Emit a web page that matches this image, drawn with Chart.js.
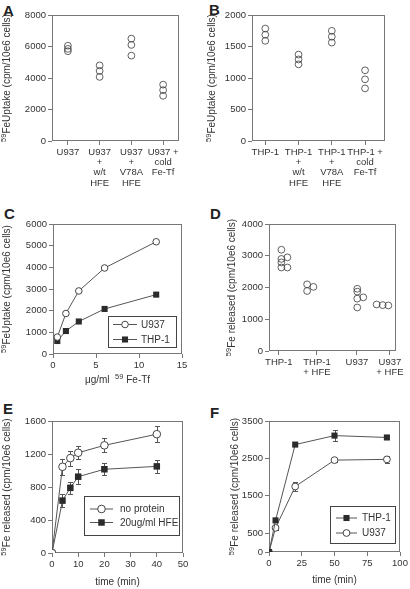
<!DOCTYPE html>
<html lang="en">
<head>
<meta charset="UTF-8">
<title>59Fe uptake and release</title>
<script src="https://cdn.jsdelivr.net/npm/chart.js@4"></script>
<style>
  body { margin: 0; background: #fff; font-family: Arial, "Liberation Sans", sans-serif; }
  #wrap { position: relative; width: 410px; height: 589px; overflow: hidden; }
  canvas { position: absolute; }
  .tag { position: absolute; font-weight: bold; font-size: 15px; line-height: 1; color: #222; }
</style>
</head>
<body>
<div id="wrap">
  <div class="tag" style="left:3px;top:3px">A</div>
  <div class="tag" style="left:209px;top:2px">B</div>
  <div class="tag" style="left:4px;top:206px">C</div>
  <div class="tag" style="left:210px;top:206px">D</div>
  <div class="tag" style="left:3px;top:401px">E</div>
  <div class="tag" style="left:210px;top:405px">F</div>

  <canvas id="chartA" width="199" height="196" style="left:1px;top:0px"></canvas>
  <canvas id="chartB" width="203" height="196" style="left:206px;top:0px"></canvas>
  <canvas id="chartC" width="199" height="186" style="left:1px;top:200px"></canvas>
  <canvas id="chartD" width="183" height="180" style="left:226px;top:200px"></canvas>
  <canvas id="chartE" width="199" height="184" style="left:1px;top:404px"></canvas>
  <canvas id="chartF" width="181" height="182" style="left:229px;top:404px"></canvas>
</div>

<script>
// ---- A: U937 uptake ----
const aCats = [['U937'], ['U937', '+', 'w/t', 'HFE'], ['U937', '+', 'V78A', 'HFE'], ['U937 +', 'cold', 'Fe-Tf']];
const aU937 = [6050, 5850, 5700];
const aU937Wt = [4800, 4450, 4070];
const aU937V78A = [6500, 6100, 5420];
const aU937Cold = [3580, 3230, 2870];
const aYTicks = [0, 2000, 4000, 6000, 8000];

// ---- B: THP-1 uptake ----
const bCats = [['THP-1'], ['THP-1', '+', 'w/t', 'HFE'], ['THP-1', '+', 'V78A', 'HFE'], ['THP-1 +', 'cold', 'Fe-Tf']];
const bThp1 = [1785, 1687, 1590];
const bThp1Wt = [1372, 1295, 1217];
const bThp1V78A = [1749, 1655, 1562];
const bThp1Cold = [1122, 979, 835];
const bYTicks = [0, 500, 1000, 1500, 2000];

// ---- C: dose response ----
const cDose = [0.5, 1.5, 3, 6, 12];
const cU937 = [780, 1870, 2910, 3970, 5180];
const cThp1 = [600, 1060, 1500, 2080, 2740];
const cXTicks = [0, 5, 10, 15];
const cYTicks = [0, 1000, 2000, 3000, 4000, 5000, 6000];

// ---- D: release, jittered points ----
const dCats = ['THP-1', ['THP-1', '+ HFE'], 'U937', ['U937', '+ HFE']];
const dCatPos = [0.31, 1.51, 2.77, 3.81];
const dThp1 = [3190, 2900, 2790, 2630, 2950, 2630];
const dThp1X = [0.39, 0.39, 0.39, 0.39, 0.58, 0.58];
const dThp1Hfe = [2100, 1890, 2020];
const dThp1HfeX = [1.20, 1.20, 1.40];
const dU937 = [1960, 1870, 1650, 1370, 1690];
const dU937X = [2.78, 2.78, 2.78, 2.78, 2.97];
const dU937Hfe = [1465, 1445, 1435];
const dU937HfeX = [3.39, 3.58, 3.76];
const dYTicks = [0, 1000, 2000, 3000, 4000];

// ---- E: release time course +/- HFE ----
const eTime = [0, 4, 7, 10, 20, 40];
const eNoProtein = [0, 1045, 1150, 1215, 1305, 1440];
const eNoProteinErr = [0, 95, 90, 80, 85, 95];
const eHfe = [0, 635, 790, 925, 1015, 1050];
const eHfeErr = [0, 75, 70, 90, 70, 78];
const eXTicks = [0, 10, 20, 30, 40, 50];
const eYTicks = [0, 400, 800, 1200, 1600];

// ---- F: release time course THP-1 vs U937 ----
const fTime = [0, 5, 20, 50, 90];
const fThp1 = [0, 845, 2870, 3110, 3060];
const fThp1Err = [0, 0, 40, 150, 40];
const fU937 = [0, 645, 1750, 2455, 2475];
const fU937Err = [0, 50, 130, 40, 100];
const fXTicks = [0, 25, 50, 75, 100];
const fYTicks = [0, 500, 1500, 2500, 3500];

// axis titles, "59" is drawn as a superscript
const uptakeTitle = [['59', true], ['FeUptake (cpm/10e6 cells)', false]];
const releaseTitle = [['59', true], ['Fe released (cpm/10e6 cells)', false]];
const doseTitle = [['\u03bcg/ml  ', false], ['59', true], [' Fe-Tf', false]];
const timeTitle = [['time (min)', false]];

Chart.defaults.font.family = 'Arial, "Liberation Sans", Helvetica, sans-serif';
Chart.defaults.font.size = 9.5;
Chart.defaults.color = '#333';

const frameColor = '#777';
const fontFamily = Chart.defaults.font.family;

function pts(xs, ys) {
  return ys.map((y, i) => ({ x: xs[i], y: y }));
}

function groupPoints(groups) {
  let out = [];
  groups.forEach((ys, i) => { out = out.concat(ys.map(y => ({ x: i, y: y }))); });
  return out;
}

function setTicks(list) {
  return function (scale) {
    scale.ticks = list.map(v => ({ value: v }));
  };
}

// box around the plot area
const framePlugin = {
  id: 'frame',
  beforeDatasetsDraw(chart) {
    const a = chart.chartArea, ctx = chart.ctx;
    ctx.save();
    ctx.strokeStyle = frameColor;
    ctx.lineWidth = 1;
    ctx.strokeRect(Math.round(a.left) + 0.5, Math.round(a.top) + 0.5,
      Math.round(a.right - a.left) - 1, Math.round(a.bottom - a.top) - 1);
    ctx.restore();
  }
};

// vertical error bars with caps
const errorBarPlugin = {
  id: 'errorBars',
  beforeDatasetsDraw(chart) {
    const ctx = chart.ctx, ys = chart.scales.y;
    chart.data.datasets.forEach((ds, i) => {
      if (!ds.errors) return;
      const meta = chart.getDatasetMeta(i);
      ctx.save();
      ctx.strokeStyle = '#555';
      ctx.lineWidth = 1;
      meta.data.forEach((pt, j) => {
        const e = ds.errors[j];
        if (!e) return;
        const v = ds.data[j].y;
        const top = Math.round(ys.getPixelForValue(v + e)) + 0.5;
        const bot = Math.round(ys.getPixelForValue(v - e)) + 0.5;
        const x = Math.round(pt.x) + 0.5;
        ctx.beginPath();
        ctx.moveTo(x, top); ctx.lineTo(x, bot);
        ctx.moveTo(x - 2.5, top); ctx.lineTo(x + 2.5, top);
        ctx.moveTo(x - 2.5, bot); ctx.lineTo(x + 2.5, bot);
        ctx.stroke();
      });
      ctx.restore();
    });
  }
};

// text made of normal and superscript pieces, centred on (cx, cy)
function drawRich(ctx, parts, cx, cy, rotate) {
  const fonts = parts.map(p => (p[1] ? '7.5px ' : '10px ') + fontFamily);
  const widths = parts.map((p, i) => { ctx.font = fonts[i]; return ctx.measureText(p[0]).width; });
  const total = widths.reduce((s, w) => s + w, 0);
  ctx.save();
  ctx.translate(cx, cy);
  if (rotate) ctx.rotate(-Math.PI / 2);
  ctx.textBaseline = 'middle';
  ctx.fillStyle = '#333';
  let x = -total / 2;
  parts.forEach((p, i) => {
    ctx.font = fonts[i];
    ctx.fillText(p[0], x, p[1] ? -3 : 0);
    x += widths[i];
  });
  ctx.restore();
}

const axisTitlePlugin = {
  id: 'axisTitles',
  afterDraw(chart, args, opts) {
    const a = chart.chartArea, ctx = chart.ctx;
    if (opts.y) drawRich(ctx, opts.y, 6, (a.top + a.bottom) / 2, true);
    if (opts.x) drawRich(ctx, opts.x, (a.left + a.right) / 2, chart.height - 6, false);
  }
};

function drawMarker(ctx, ds, x, y) {
  ctx.save();
  if (ds.pointStyle === 'rect') {
    const s = ds.pointRadius * Math.SQRT1_2;
    ctx.fillStyle = ds.pointBackgroundColor;
    ctx.fillRect(x - s, y - s, 2 * s, 2 * s);
  } else {
    ctx.beginPath();
    ctx.arc(x, y, ds.pointRadius, 0, Math.PI * 2);
    ctx.fillStyle = ds.pointBackgroundColor;
    ctx.fill();
    ctx.strokeStyle = ds.pointBorderColor;
    ctx.lineWidth = ds.pointBorderWidth;
    ctx.stroke();
  }
  ctx.restore();
}

// legend drawn inside the plot, lower right, with a border
const boxLegendPlugin = {
  id: 'boxLegend',
  afterDatasetsDraw(chart, args, opts) {
    if (!opts || !opts.w) return;
    const a = chart.chartArea, ctx = chart.ctx;
    const x0 = Math.round(a.right - opts.right - opts.w);
    const y0 = Math.round(a.bottom - opts.bottom - opts.h);
    ctx.save();
    ctx.strokeStyle = '#444';
    ctx.lineWidth = 1;
    ctx.fillStyle = '#fff';
    ctx.fillRect(x0, y0, opts.w, opts.h);
    ctx.strokeRect(x0 + 0.5, y0 + 0.5, opts.w, opts.h);
    ctx.font = '10px ' + fontFamily;
    ctx.textBaseline = 'middle';
    chart.data.datasets.forEach((ds, i) => {
      const y = y0 + opts.rows[i];
      ctx.strokeStyle = ds.borderColor;
      ctx.lineWidth = ds.borderWidth;
      ctx.beginPath();
      ctx.moveTo(x0 + opts.line[0], y);
      ctx.lineTo(x0 + opts.line[1], y);
      ctx.stroke();
      drawMarker(ctx, ds, x0 + (opts.line[0] + opts.line[1]) / 2, y);
      ctx.fillStyle = '#333';
      ctx.fillText(ds.label, x0 + opts.textX, y + 0.5);
    });
    ctx.restore();
  }
};

const openDot = {
  showLine: false, pointStyle: 'circle', pointRadius: 3.4,
  pointBackgroundColor: 'rgba(0,0,0,0)', pointBorderColor: '#3a3a3a', pointBorderWidth: 0.8
};
function openLine(r) {
  return {
    showLine: true, borderColor: '#555', borderWidth: 1, pointStyle: 'circle', pointRadius: r,
    pointBackgroundColor: '#fff', pointBorderColor: '#444', pointBorderWidth: 1
  };
}
function squareLine(r) {
  return {
    showLine: true, borderColor: '#555', borderWidth: 1, pointStyle: 'rect', pointRadius: r,
    pointBackgroundColor: '#2b2b2b', pointBorderColor: '#2b2b2b', pointBorderWidth: 0
  };
}

function makeChart(id, p) {
  return new Chart(document.getElementById(id), {
    type: 'scatter',
    data: { datasets: p.datasets },
    options: {
      responsive: false,
      animation: false,
      events: [],
      layout: { padding: { top: p.pad[0], right: p.pad[1], bottom: 0, left: 0 } },
      plugins: {
        legend: { display: false },
        tooltip: { enabled: false },
        boxLegend: p.legend || {},
        axisTitles: { x: p.xTitle, y: p.yTitle }
      },
      scales: {
        x: {
          type: 'linear', min: p.xMin, max: p.xMax,
          afterBuildTicks: setTicks(p.xTicks),
          afterFit: s => { s.height = p.xHeight; },
          grid: { drawOnChartArea: false, tickLength: 4, color: frameColor },
          border: { display: false },
          ticks: {
            autoSkip: false, maxRotation: 0, minRotation: 0, padding: 2,
            font: { size: 9.5, lineHeight: 1.08 },
            callback: p.xLabels ? (v, i) => p.xLabels[i] : v => '' + v
          }
        },
        y: {
          type: 'linear', min: p.yMin, max: p.yMax,
          afterBuildTicks: setTicks(p.yTicks),
          afterFit: s => { s.width = p.yWidth; },
          grid: { drawOnChartArea: false, tickLength: 4, color: frameColor },
          border: { display: false },
          ticks: { padding: 2, font: { size: 9.5 }, callback: v => '' + v }
        }
      }
    },
    plugins: [framePlugin, errorBarPlugin, boxLegendPlugin, axisTitlePlugin]
  });
}

makeChart('chartA', {
  pad: [15, 21], yWidth: 51, xHeight: 55,
  xMin: -0.5, xMax: 3.5, xTicks: [0, 1, 2, 3], xLabels: aCats,
  yMin: 0, yMax: 8000, yTicks: aYTicks, yTitle: uptakeTitle,
  datasets: [Object.assign({ label: 'U937', data: groupPoints([aU937, aU937Wt, aU937V78A, aU937Cold]) }, openDot)]
});

makeChart('chartB', {
  pad: [15, 24], yWidth: 46, xHeight: 55,
  xMin: -0.4, xMax: 3.6, xTicks: [0, 1, 2, 3], xLabels: bCats,
  yMin: 0, yMax: 2000, yTicks: bYTicks, yTitle: uptakeTitle,
  datasets: [Object.assign({ label: 'THP-1', data: groupPoints([bThp1, bThp1Wt, bThp1V78A, bThp1Cold]) }, openDot)]
});

makeChart('chartC', {
  pad: [24, 18], yWidth: 52, xHeight: 32,
  xMin: 0, xMax: 15, xTicks: cXTicks, xTitle: doseTitle,
  yMin: 0, yMax: 6000, yTicks: cYTicks, yTitle: uptakeTitle,
  legend: { right: 6, bottom: 7, w: 68, h: 31, line: [5, 29], textX: 33, rows: [8.5, 23.5] },
  datasets: [
    Object.assign({ label: 'U937', data: pts(cDose, cU937) }, openLine(3.3)),
    Object.assign({ label: 'THP-1', data: pts(cDose, cThp1) }, squareLine(4.3))
  ]
});

makeChart('chartD', {
  pad: [24, 13], yWidth: 43, xHeight: 29,
  xMin: 0, xMax: 4, xTicks: dCatPos, xLabels: dCats,
  yMin: 0, yMax: 4000, yTicks: dYTicks, yTitle: releaseTitle,
  datasets: [
    Object.assign({ label: 'THP-1', data: pts(dThp1X, dThp1) }, openDot),
    Object.assign({ label: 'THP-1 + HFE', data: pts(dThp1HfeX, dThp1Hfe) }, openDot),
    Object.assign({ label: 'U937', data: pts(dU937X, dU937) }, openDot),
    Object.assign({ label: 'U937 + HFE', data: pts(dU937HfeX, dU937Hfe) }, openDot)
  ]
});

makeChart('chartE', {
  pad: [17, 17], yWidth: 51, xHeight: 35,
  xMin: 0, xMax: 50, xTicks: eXTicks, xTitle: timeTitle,
  yMin: 0, yMax: 1600, yTicks: eYTicks, yTitle: releaseTitle,
  legend: { right: 4, bottom: 18, w: 95, h: 39, line: [6, 29], textX: 36, rows: [13, 26.5] },
  datasets: [
    Object.assign({ label: 'no protein', data: pts(eTime, eNoProtein), errors: eNoProteinErr }, openLine(3.8)),
    Object.assign({ label: '20ug/ml HFE', data: pts(eTime, eHfe), errors: eHfeErr }, squareLine(4.6))
  ]
});

makeChart('chartF', {
  pad: [17, 10], yWidth: 40, xHeight: 34,
  xMin: 0, xMax: 100, xTicks: fXTicks, xTitle: timeTitle,
  yMin: 0, yMax: 3500, yTicks: fYTicks, yTitle: releaseTitle,
  legend: { right: 5, bottom: 9, w: 65, h: 37, line: [6, 27], textX: 32, rows: [12, 27] },
  datasets: [
    Object.assign({ label: 'THP-1', data: pts(fTime, fThp1), errors: fThp1Err }, squareLine(4.3)),
    Object.assign({ label: 'U937', data: pts(fTime, fU937), errors: fU937Err }, openLine(3.4))
  ]
});
</script>
</body>
</html>
